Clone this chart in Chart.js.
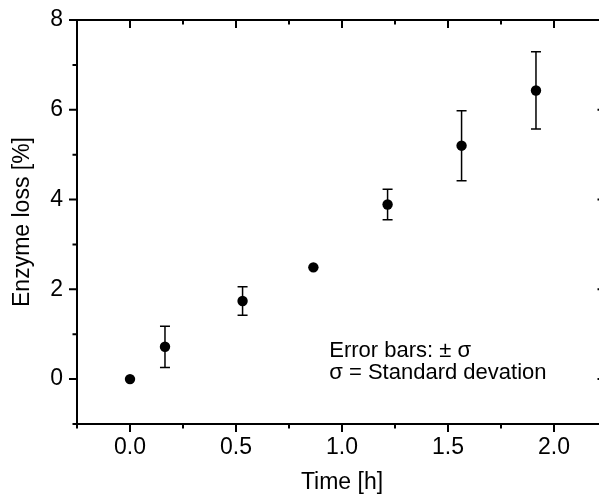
<!DOCTYPE html>
<html>
<head>
<meta charset="utf-8">
<script src="https://cdn.jsdelivr.net/npm/chart.js@4/dist/chart.umd.min.js"></script>
<style>
  html, body { margin: 0; padding: 0; background: #fff; }
  #clip { width: 599px; height: 496px; overflow: hidden; position: relative; }
  #wrap { width: 610px; height: 496px; }
</style>
</head>
<body>
<div id="clip"><div id="wrap"><canvas id="enzymeChart" width="610" height="496"></canvas></div></div>
<script>
// data
const times = [0, 0.165, 0.531, 0.865, 1.215, 1.564, 1.915];
const loss = [0, 0.72, 1.74, 2.49, 3.89, 5.2, 6.43];
const sigma = [0, 0.46, 0.32, 0, 0.34, 0.78, 0.86];

// axis ticks
const xMajor = [0, 0.5, 1, 1.5, 2];
const xMinor = [-0.25, 0.25, 0.75, 1.25, 1.75, 2.25];
const yMajor = [0, 2, 4, 6, 8];
const yMinor = [-1, 1, 3, 5, 7];

const noteLines = ['Error bars: \u00b1 \u03c3', '\u03c3 = Standard devation'];

const FONT = '"Liberation Sans", Arial, sans-serif';

// error bars, drawn under the dots
const errorBars = {
  id: 'errorBars',
  beforeDatasetsDraw(chart) {
    const { ctx, scales: { x, y } } = chart;
    ctx.save();
    ctx.strokeStyle = '#000';
    ctx.lineWidth = 1.5;
    times.forEach((t, i) => {
      if (!sigma[i]) return;
      const px = x.getPixelForValue(t);
      const top = y.getPixelForValue(loss[i] + sigma[i]);
      const bot = y.getPixelForValue(loss[i] - sigma[i]);
      ctx.beginPath();
      ctx.moveTo(px, top); ctx.lineTo(px, bot);
      ctx.moveTo(px - 5, top); ctx.lineTo(px + 5, top);
      ctx.moveTo(px - 5, bot); ctx.lineTo(px + 5, bot);
      ctx.stroke();
    });
    ctx.restore();
  }
};

// box frame with ticks: outward on left/bottom, inward on top/right
const frame = {
  id: 'frame',
  afterDraw(chart) {
    const { ctx, chartArea: a, scales: { x, y } } = chart;
    ctx.save();
    ctx.strokeStyle = '#000';
    ctx.lineWidth = 2;
    ctx.strokeRect(a.left, a.top, a.right - a.left, a.bottom - a.top);

    const xtick = (vals, len) => {
      vals.forEach(v => {
        const px = x.getPixelForValue(v);
        ctx.beginPath();
        ctx.moveTo(px, a.bottom); ctx.lineTo(px, a.bottom + len);
        ctx.moveTo(px, a.top); ctx.lineTo(px, a.top + len);
        ctx.stroke();
      });
    };
    const ytick = (vals, len, inLen) => {
      vals.forEach(v => {
        const py = y.getPixelForValue(v);
        ctx.beginPath();
        ctx.moveTo(a.left, py); ctx.lineTo(a.left - len, py);
        ctx.moveTo(a.right, py); ctx.lineTo(a.right - inLen, py);
        ctx.stroke();
      });
    };
    xtick(xMajor, 8); xtick(xMinor, 4.5);
    ytick(yMajor, 8, 9.5); ytick(yMinor, 4.5, 5);

    // note text
    ctx.fillStyle = '#000';
    ctx.font = '22px ' + FONT;
    ctx.textAlign = 'left';
    ctx.textBaseline = 'alphabetic';
    const nx = x.getPixelForValue(0.94);
    const ny = y.getPixelForValue(0.5);
    noteLines.forEach((line, i) => ctx.fillText(line, nx, ny + i * 22));
    ctx.restore();
  }
};

new Chart(document.getElementById('enzymeChart').getContext('2d'), {
  type: 'scatter',
  data: {
    datasets: [{
      data: times.map((t, i) => ({ x: t, y: loss[i] })),
      backgroundColor: '#000',
      borderWidth: 0,
      pointRadius: 5.2,
      pointHoverRadius: 5.2
    }]
  },
  options: {
    responsive: false,
    animation: false,
    events: [],
    layout: { autoPadding: false, padding: { top: 20, right: 3, left: 0, bottom: 0 } },
    plugins: { legend: { display: false }, tooltip: { enabled: false } },
    scales: {
      x: {
        type: 'linear',
        min: -0.25,
        max: 2.25,
        afterBuildTicks: s => { s.ticks = xMajor.map(v => ({ value: v })); },
        afterFit: s => { s.height = 72; s.paddingLeft = 0; s.paddingRight = 0; },
        grid: { display: false, drawTicks: false },
        border: { display: false },
        ticks: {
          color: '#000',
          padding: 10,
          maxRotation: 0,
          font: { family: FONT, size: 23 },
          callback: v => Number(v).toFixed(1)
        },
        title: {
          display: true,
          text: 'Time [h]',
          color: '#000',
          padding: { top: 0, bottom: 0 },
          font: { family: FONT, size: 23 }
        }
      },
      y: {
        type: 'linear',
        min: -1,
        max: 8,
        afterBuildTicks: s => { s.ticks = yMajor.map(v => ({ value: v })); },
        afterFit: s => { s.width = 77; s.paddingTop = 0; s.paddingBottom = 0; },
        grid: { display: false, drawTicks: false },
        border: { display: false },
        ticks: {
          color: '#000',
          padding: 14,
          font: { family: FONT, size: 23 }
        },
        title: {
          display: true,
          text: 'Enzyme loss [%]',
          color: '#000',
          padding: { top: 9, bottom: 0 },
          font: { family: FONT, size: 23 }
        }
      }
    }
  },
  plugins: [errorBars, frame]
});
</script>
</body>
</html>
